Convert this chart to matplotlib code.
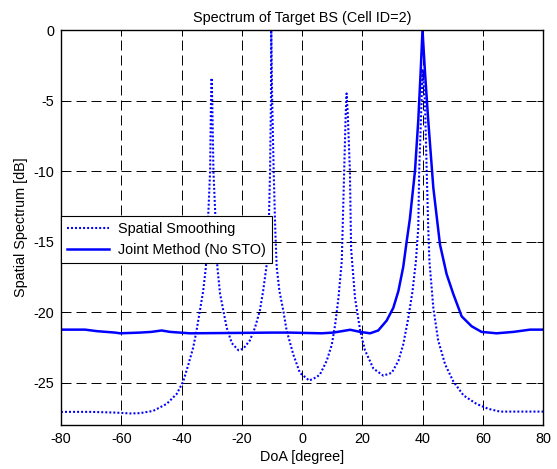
import matplotlib
matplotlib.use("Agg")
import matplotlib.pyplot as plt

plt.rcParams['font.family'] = ['Liberation Sans', 'DejaVu Sans']
plt.rcParams['lines.scale_dashes'] = False

title = "Spectrum of Target BS (Cell ID=2)"
xlabel = "DoA [degree]"
ylabel = "Spatial Spectrum [dB]"
labels = ["Spatial Smoothing", "Joint Method (No STO)"]
xticks = [-80, -60, -40, -20, 0, 20, 40, 60, 80]
yticks = [0, -5, -10, -15, -20, -25]

ss_doa = [-80, -70, -62, -57, -53.8, -49.4, -44.9, -41.6, -39.4, -37.7, -36.1, -35.0,
          -33.9, -32.8, -31.9, -31.1, -30.5, -30.2, -30.0, -29.8, -29.4, -28.8, -28.1,
          -27.2, -26.1, -25.0, -23.3, -21.1, -19.5, -17.3, -15.6, -14.0, -12.9, -11.7,
          -11.1, -10.6, -10.3, -10.2, -9.9, -9.4, -8.9, -8.4, -7.5, -6.2, -5.1, -2.9,
          -0.7, 2.4, 4.9, 6.0, 8.2, 9.9, 11.0, 12.1, 13.2, 14.0, 14.5, 14.8, 15.2, 15.9,
          16.3, 17.6, 19.3, 20.9, 23.7, 27.0, 29.8, 32.0, 33.6, 35.3, 36.7, 37.8, 38.6,
          38.9, 39.7, 40.0, 40.8, 41.4, 41.9, 42.3, 43.6, 45.2, 47.5, 50.2, 53.6, 57.9,
          61.8, 65.7, 80]
ss_db = [-27.07, -27.07, -27.12, -27.18, -27.16, -27.0, -26.5, -25.8, -24.9, -23.7, -22.5, -21.3,
         -19.9, -18.5, -16.8, -13.0, -10.0, -5.0, -3.4, -5.0, -10.0, -13.0, -16.8,
         -18.7, -19.9, -21.1, -22.2, -22.7, -22.6, -22.0, -21.1, -19.9, -18.5, -16.6,
         -14.5, -10.0, -5.0, 0.0, -5.0, -10.0, -14.0, -16.8, -18.5, -19.9, -21.3, -23.0,
         -24.3, -24.85, -24.6, -24.4, -23.45, -22.3, -20.9, -19.0, -16.4, -10.0, -6.0, -4.5, -6.0, -10.0,
         -15.5, -19.0, -21.3, -22.7, -24.0, -24.5, -24.3, -23.45, -22.3, -20.4, -18.5, -16.4, -14.0,
         -10.0, -5.0, -2.77, -5.0, -10.0, -14.0, -16.4, -19.7, -22.0, -23.7, -24.9, -25.9, -26.5,
         -26.85, -27.05, -27.05]

jm_doa = [-80, -72, -68, -62, -60.4, -53.8, -50, -46.6, -43.8, -37.2, -20, -10, -4.0, 6.5,
          10.4, 16.0, 19.3, 22.6, 25.3, 28.1, 30.3, 32.0, 33.6, 34.8, 35.8, 37.5, 38.6,
          39.4, 40.0, 40.8, 41.9, 43.6, 45.8, 48.0, 50.2, 53.0, 56.3, 59.6, 64.6, 70.2,
          75.7, 80]
jm_db = [-21.24, -21.24, -21.35, -21.45, -21.5, -21.45, -21.4, -21.3, -21.4, -21.5, -21.47,
         -21.45, -21.45, -21.5, -21.45, -21.25, -21.4, -21.5, -21.3, -20.6, -19.7, -18.5,
         -16.8, -14.9, -13.4, -10.0, -6.4, -2.9, 0.0, -2.9, -6.4, -11.2, -15.2, -17.3,
         -18.7, -20.3, -21.0, -21.4, -21.5, -21.4, -21.24, -21.24]

fig = plt.figure(figsize=(5.57, 4.69), dpi=100)
ax = fig.add_axes([61/557, 44/469, 482/557, 395/469])

ax.plot(ss_doa, ss_db, color=(0, 0, 1), lw=1.5, linestyle=(0, (1.4, 1.5)),
        label=labels[0])
ax.plot(jm_doa, jm_db, color=(0, 0, 1), lw=1.8, linestyle='-', label=labels[1],
        solid_joinstyle='round')

ax.set_xlim(-80, 80)
ax.set_ylim(-28, 0)
ax.set_xticks(xticks)
ax.set_yticks(yticks)
ax.set_xticklabels([str(v) for v in xticks])
ax.set_yticklabels([str(v) for v in yticks])
ax.grid(True, color='black', linestyle=(0, (7.2, 3.6)), linewidth=0.7)
ax.tick_params(direction='in', top=True, right=True, length=4, width=0.7,
               labelsize=10.4, pad=5, colors='black')
for s in ax.spines.values():
    s.set_linewidth(1.0)
    s.set_color('black')

ax.set_title(title, fontsize=10.4, pad=6)
ax.set_xlabel(xlabel, fontsize=10.4, labelpad=3)
ax.set_ylabel(ylabel, fontsize=10.4, labelpad=4)

leg = ax.legend(loc='upper left', bbox_to_anchor=(0.0, 0.529), fontsize=10.4,
                frameon=True, fancybox=False, edgecolor='black', framealpha=1,
                borderaxespad=0, handlelength=2.9, borderpad=0.42, labelspacing=0.5,
                handletextpad=0.6)
leg.get_frame().set_linewidth(0.8)

fig.savefig("out.png", dpi=100)
